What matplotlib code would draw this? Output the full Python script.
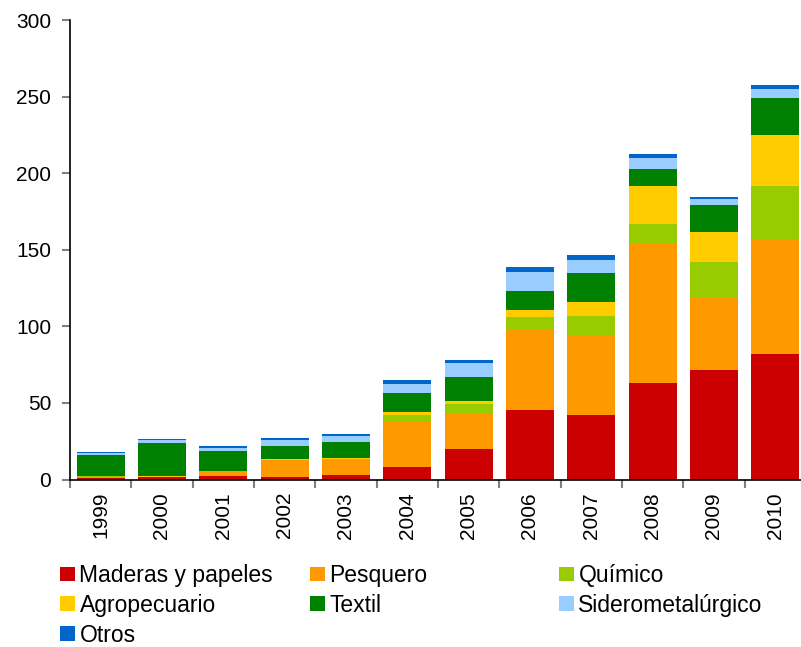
import matplotlib
matplotlib.use('Agg')
import matplotlib.pyplot as plt
import numpy as np
from matplotlib.patches import Patch

plt.rcParams['font.family'] = ['Liberation Sans', 'DejaVu Sans']

years = ['1999', '2000', '2001', '2002', '2003', '2004',
         '2005', '2006', '2007', '2008', '2009', '2010']

maderas = [1.2, 1.5, 2.2, 1.5, 2.8, 8.0, 19.8, 45.2, 42.0, 62.8, 71.3, 81.7]
pesquero = [0.2, 0.2, 3.3, 11.1, 10.4, 29.6, 23.0, 52.4, 52.2, 90.9, 47.0, 75.0]
quimico = [0.6, 0.2, 0.1, 0.2, 0.2, 4.3, 6.3, 8.3, 12.4, 12.8, 23.5, 35.2]
agropecuario = [0.6, 0.5, 0.1, 0.65, 0.65, 2.0, 2.0, 4.6, 9.1, 24.8, 19.6, 33.3]
textil = [13.7, 21.5, 13.0, 8.5, 10.4, 12.4, 15.7, 12.4, 18.9, 11.7, 17.6, 24.1]
sidero = [1.3, 2.0, 2.0, 3.9, 3.9, 5.9, 9.1, 12.4, 8.5, 7.2, 3.9, 5.9]
otros = [0.3, 0.65, 1.3, 1.3, 1.3, 2.6, 2.0, 3.3, 3.3, 2.6, 1.3, 2.6]

series = [
    ('Maderas y papeles', maderas, '#CC0000'),
    ('Pesquero', pesquero, '#FF9900'),
    ('Químico', quimico, '#99CC00'),
    ('Agropecuario', agropecuario, '#FFCC00'),
    ('Textil', textil, '#008000'),
    ('Siderometalúrgico', sidero, '#99CCFF'),
    ('Otros', otros, '#0066CC'),
]

fig = plt.figure(figsize=(8.01, 6.47), dpi=100)
ax = fig.add_axes([70 / 801, 1 - 479.5 / 647, 736 / 801, 459.5 / 647])

x = np.arange(len(years))
bottom = np.zeros(len(years))
handles = {}
for name, vals, col in series:
    ax.bar(x, vals, 0.78, bottom=bottom, color=col, linewidth=0)
    bottom += np.array(vals)
    handles[name] = Patch(facecolor=col, edgecolor='none')

ax.set_xlim(-0.5, len(years) - 0.5)
ax.set_ylim(0, 300)
ax.set_yticks(range(0, 301, 50))
ax.set_xticks(x)
ax.set_xticklabels(years, rotation=90)
ax.set_xticks(np.arange(-0.5, len(years), 1), minor=True)

for s in ['top', 'right']:
    ax.spines[s].set_visible(False)
ax.spines['left'].set_linewidth(1.2)
ax.spines['bottom'].set_linewidth(1.2)

ax.tick_params(axis='y', direction='out', length=5.5, width=1.5, color='#808080',
               labelsize=15, pad=8)
ax.tick_params(axis='x', which='major', length=0, labelsize=15, pad=9)
ax.tick_params(axis='x', which='minor', direction='out', length=5.5, width=1.5,
               color='#808080')

# Excel-style legend: three equal-width columns, filled row by row
columns = [['Maderas y papeles', 'Agropecuario', 'Otros'],
           ['Pesquero', 'Textil'],
           ['Químico', 'Siderometalúrgico']]
col_x = [60, 310, 559]
for cx, names in zip(col_x, columns):
    fig.legend([handles[n] for n in names], names, loc='upper left',
               bbox_to_anchor=(cx / 801, 1 - 564 / 647), frameon=False,
               fontsize=16.5, handlelength=0.65, handleheight=0.61,
               handletextpad=0.2, labelspacing=0.3, borderpad=0,
               borderaxespad=0)

fig.savefig('out.png', dpi=100)
